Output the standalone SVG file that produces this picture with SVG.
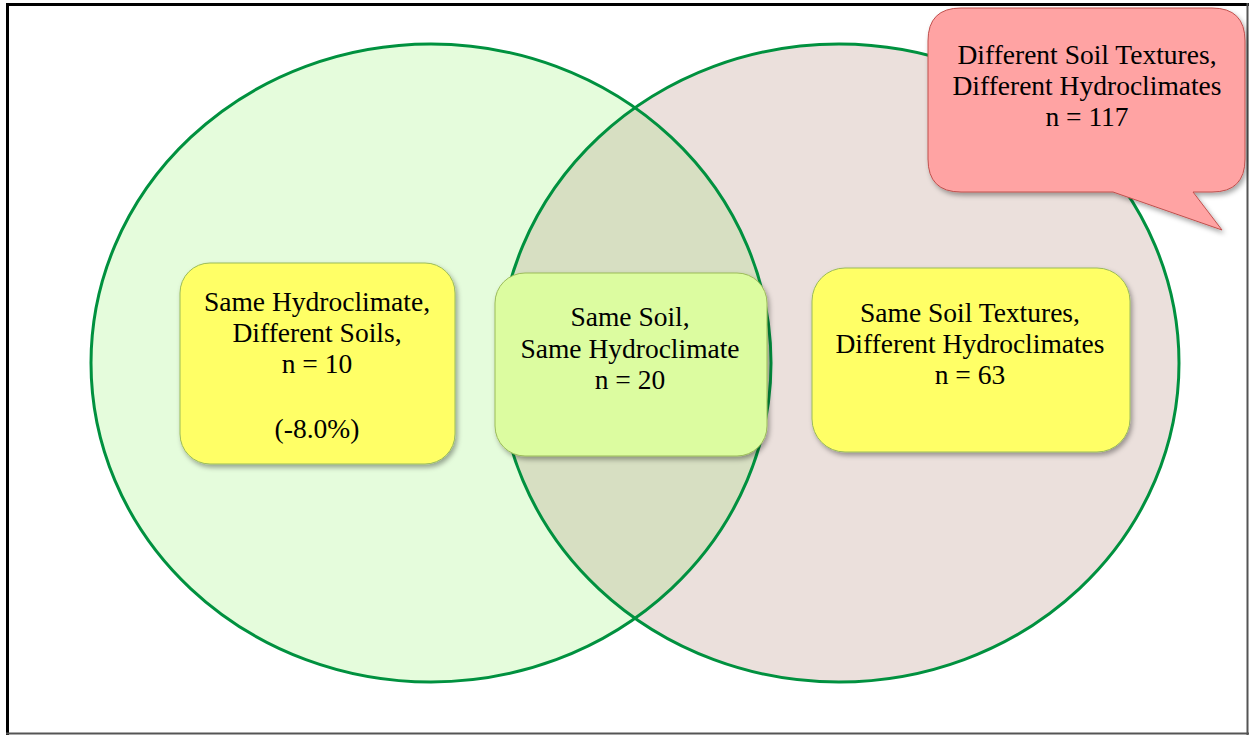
<svg xmlns="http://www.w3.org/2000/svg" width="1249" height="735" viewBox="0 0 1249 735">
<style>
.t{font-family:"Liberation Serif","Times New Roman",serif;font-size:27.5px;fill:#000;text-anchor:middle}
.circ{stroke:#00913f;stroke-width:3}
.box{stroke:#9bbb59;stroke-width:1}
</style>
<defs>
<filter id="sh" x="-10%" y="-10%" width="125%" height="130%">
<feDropShadow dx="2" dy="3" stdDeviation="2.5" flood-color="#000" flood-opacity="0.35"/>
</filter>
<clipPath id="clipL"><ellipse cx="431" cy="363" rx="340" ry="319"/></clipPath>
</defs>
<rect x="0" y="0" width="1249" height="735" fill="#fff"/>
<g id="border">
<line x1="6" y1="4.5" x2="1249" y2="4.5" stroke="#000" stroke-width="3"/>
<line x1="7.5" y1="3" x2="7.5" y2="735" stroke="#000" stroke-width="3"/>
<line x1="1247.5" y1="3" x2="1247.5" y2="735" stroke="#555" stroke-width="2"/>
<line x1="6" y1="733.5" x2="1249" y2="733.5" stroke="#555" stroke-width="2"/>
</g>
<g id="circle-left">
<ellipse cx="431" cy="363" rx="340" ry="319" fill="#e5fcdc"/>
</g>
<g id="circle-right">
<ellipse cx="839" cy="363" rx="340" ry="319" fill="#ebe0dc"/>
</g>
<g id="overlap">
<ellipse cx="839" cy="363" rx="340" ry="319" fill="#d7dfc2" clip-path="url(#clipL)"/>
</g>
<g id="outlines">
<ellipse class="circ" cx="431" cy="363" rx="340" ry="319" fill="none"/>
<ellipse class="circ" cx="839" cy="363" rx="340" ry="319" fill="none"/>
</g>
<g id="callout">
<path d="M961,8 H1212 Q1245,8 1245,41 V159 Q1245,192 1212,192 H1193 L1222,230 L1113,192 H961 Q928,192 928,159 V41 Q928,8 961,8 Z" fill="#ffa3a3" stroke="#c0504d" stroke-width="1" filter="url(#sh)"/>
<text class="t" x="1087" y="64">Different Soil Textures,</text>
<text class="t" x="1087" y="95">Different Hydroclimates</text>
<text class="t" x="1087" y="126">n = 117</text>
</g>
<g id="box-left">
<rect class="box" x="180" y="263" width="275" height="201" rx="30" fill="#ffff66" filter="url(#sh)"/>
<text class="t" x="317" y="311">Same Hydroclimate,</text>
<text class="t" x="317" y="342">Different Soils,</text>
<text class="t" x="317" y="373">n = 10</text>
<text class="t" x="317" y="438">(-8.0%)</text>
</g>
<g id="box-middle">
<rect class="box" x="495" y="273" width="272" height="183" rx="30" fill="#dcfca0" filter="url(#sh)"/>
<text class="t" x="630" y="326">Same Soil,</text>
<text class="t" x="630" y="358">Same Hydroclimate</text>
<text class="t" x="630" y="389">n = 20</text>
</g>
<g id="box-right">
<rect class="box" x="812" y="268" width="318" height="184" rx="33" fill="#ffff66" filter="url(#sh)"/>
<text class="t" x="970" y="322">Same Soil Textures,</text>
<text class="t" x="970" y="353">Different Hydroclimates</text>
<text class="t" x="970" y="384">n = 63</text>
</g>
</svg>
